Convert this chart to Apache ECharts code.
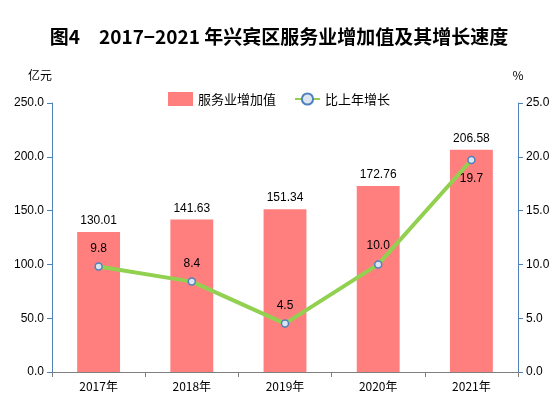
<!DOCTYPE html>
<html><head><meta charset="utf-8">
<script src="https://cdn.jsdelivr.net/npm/echarts@6/dist/echarts.min.js"></script>
<style>html,body{margin:0;padding:0;background:#fff}#c{width:558px;height:410px}</style>
</head><body><div id="c"></div>
<script>
const categories=['2017年','2018年','2019年','2020年','2021年'];
const values=[130.01,141.63,151.34,172.76,206.58];
const growth=[9.8,8.4,4.5,10.0,19.7];
const growthLabelPos=['top','top','top','top','bottom'];
const chart=echarts.init(document.getElementById('c'));
const axisColor='#4F81BD';
chart.setOption({
  animation:false,
  title:{text:'图4　2017−2021 年兴宾区服务业增加值及其增长速度',left:'center',top:22,
    textStyle:{fontFamily:'Noto Sans CJK SC',fontWeight:'bold',fontSize:19,color:'#000'}},
  legend:{top:87,left:'center',itemGap:18,textStyle:{fontSize:13,color:'#000',fontFamily:'Noto Sans CJK SC'},
    data:[{name:'服务业增加值',icon:'rect'},{name:'比上年增长'}]},
  grid:{left:52,right:40,top:103,bottom:38},
  xAxis:{type:'category',data:categories,axisLine:{lineStyle:{color:'#7f7f7f'}},axisTick:{show:true,alignWithLabel:false,lineStyle:{color:'#7f7f7f'}},
    axisLabel:{color:'#000',fontSize:12,fontFamily:'Noto Sans CJK SC'}},
  yAxis:[
    {type:'value',min:0,max:250,interval:50,name:'亿元',nameLocation:'end',nameGap:22,
     nameTextStyle:{color:'#000',fontSize:12,align:'right',padding:[0,0,0,0],fontFamily:'Noto Sans CJK SC'},
     axisLine:{show:true,lineStyle:{color:axisColor}},axisTick:{show:true,lineStyle:{color:axisColor}},splitLine:{show:false},
     axisLabel:{color:'#000',fontSize:12,formatter:v=>v.toFixed(1)}},
    {type:'value',min:0,max:25,interval:5,name:'%',nameLocation:'end',nameGap:22,
     nameTextStyle:{color:'#000',fontSize:12,fontFamily:'Noto Sans CJK SC'},
     axisLine:{show:true,lineStyle:{color:axisColor}},axisTick:{show:true,lineStyle:{color:axisColor}},splitLine:{show:false},
     axisLabel:{color:'#000',fontSize:12,formatter:v=>v.toFixed(1)}}
  ],
  series:[
    {name:'服务业增加值',type:'bar',data:values,barWidth:'46%',itemStyle:{color:'#FF7F7F'},
     label:{show:true,position:'top',color:'#000',fontSize:12,formatter:p=>p.value.toFixed(2)}},
    {name:'比上年增长',type:'line',yAxisIndex:1,symbol:'circle',symbolSize:7,
     lineStyle:{color:'#92D050',width:4},itemStyle:{color:'#DCE6F2',borderColor:'#4F81BD',borderWidth:1.5},
     data:growth.map((v,i)=>({value:v,label:{position:growthLabelPos[i]}})),
     label:{show:true,color:'#000',fontSize:12,distance:8,formatter:p=>p.value.toFixed(1)}}
  ]
});
</script></body></html>
